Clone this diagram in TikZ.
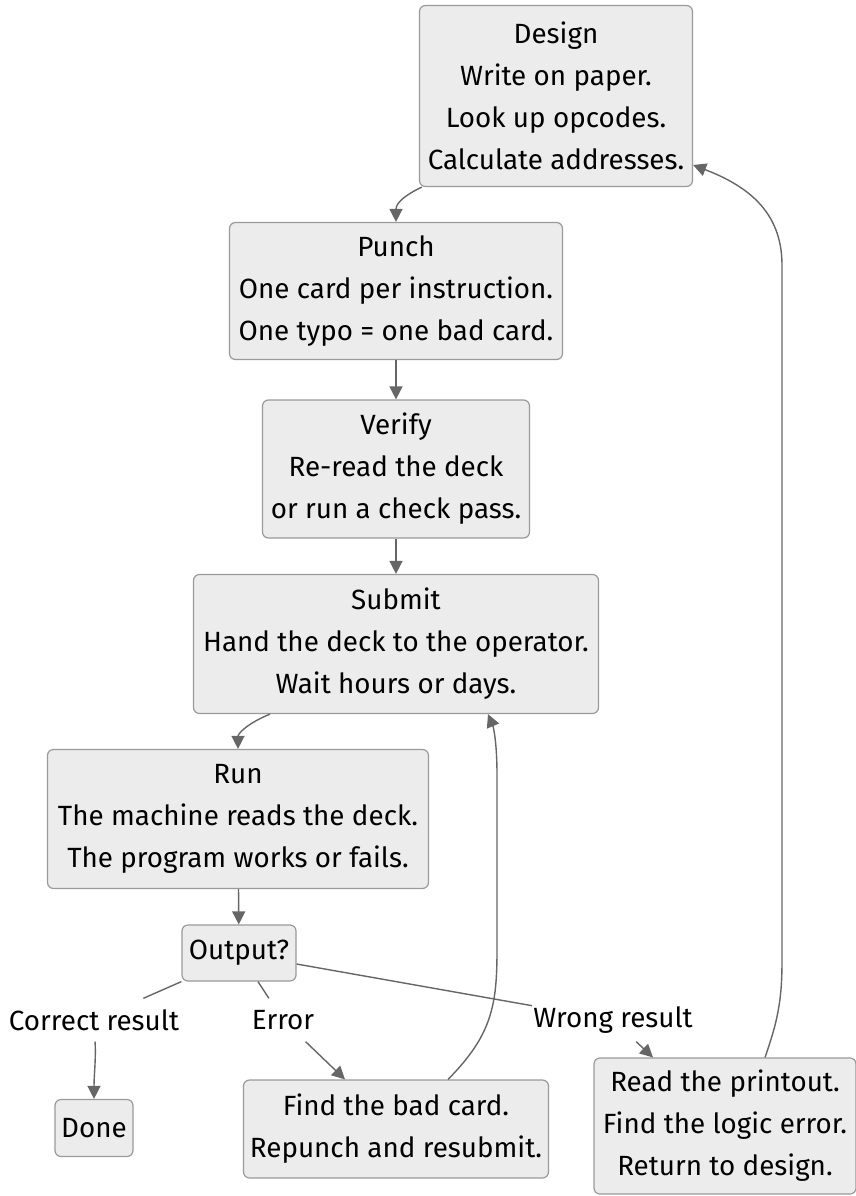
\documentclass[tikz,border=0pt]{standalone}
\usepackage{fontspec}
\setmainfont{Fira Sans}
\usetikzlibrary{arrows.meta}
\definecolor{boxfill}{HTML}{ECECEC}
\definecolor{boxline}{HTML}{9A9A9A}
\definecolor{edgeline}{HTML}{666666}

\begin{document}
\begin{tikzpicture}[x=1pt,y=-1pt,
    card/.style={draw=boxline,fill=boxfill,rounded corners=6pt,align=center,
      inner sep=0pt,line width=1.2pt,font=\fontsize{27.8}{42}\selectfont},
    lbl/.style={fill=white,inner xsep=1pt,inner ysep=0pt,minimum height=43pt,
      font=\fontsize{27.8}{42}\selectfont},
    wire/.style={draw=edgeline,line width=1.4pt},
    edge/.style={wire,-{Triangle[length=13pt,width=13pt]}}]
    \useasboundingbox (0,0) rectangle (856,1196);
    % main chain
    \node[card,minimum width=273pt,minimum height=181pt] (design) at (556,96)
      {Design\\Write on paper.\\Look up opcodes.\\Calculate addresses.};
    \node[card,minimum width=333pt,minimum height=137pt] (punch) at (396,291)
      {Punch\\One card per instruction.\\One typo = one bad card.};
    \node[card,minimum width=267pt,minimum height=138pt] (verify) at (396,469)
      {Verify\\Re-read the deck\\or run a check pass.};
    \node[card,minimum width=405pt,minimum height=139pt] (submit) at (396,644)
      {Submit\\Hand the deck to the operator.\\Wait hours or days.};
    \node[card,minimum width=381pt,minimum height=139pt] (run) at (238,819)
      {Run\\The machine reads the deck.\\The program works or fails.};
    \node[card,minimum width=114pt,minimum height=56pt] (output) at (239,953) {Output?};
    % outcomes
    \node[card,minimum width=78pt,minimum height=57pt] (done) at (94,1128) {Done};
    \node[card,minimum width=305pt,minimum height=98pt] (find) at (396,1129)
      {Find the bad card.\\Repunch and resubmit.};
    \node[card,minimum width=262pt,minimum height=136pt] (read) at (725,1126)
      {Read the printout.\\Find the logic error.\\Return to design.};
    % edge labels
    \node[lbl] (lcorrect) at (94,1020) {Correct result};
    \node[lbl] (lerror) at (283,1020) {Error};
    \node[lbl] (lwrong) at (613,1020) {Wrong result};

    \draw[edge] ([xshift=3pt]design.south west) .. controls (405,195) and (396,203) .. (punch.north);
    \draw[edge] (punch) -- (verify);
    \draw[edge] (verify) -- (submit);
    \draw[edge] ([xshift=-126pt]submit.south) .. controls (246,724) and (238,734) .. (run.north);
    \draw[edge] (run) -- (output);
    % branches
    \draw[wire] (output.south west) -- (lcorrect);
    \draw[edge] (lcorrect) .. controls (96,1060) and (94,1075) .. (done.north);
    \draw[wire] ([xshift=19pt]output.south) -- (lerror);
    \draw[edge] (lerror) -- ([xshift=-51pt]find.north);
    \draw[wire] ([yshift=-11pt]output.east) -- (lwrong);
    \draw[edge] (lwrong) -- ([xshift=-72pt]read.north);
    % loops back
    \draw[edge] ([xshift=52pt]find.north) .. controls (492,1035) and (497,1005) .. (497,950)
      -- (497,775) .. controls (497,740) and (493,726) .. ([xshift=92pt]submit.south);
    \draw[edge] ([xshift=40pt]read.north) .. controls (778,1020) and (782,1000) .. (782,960)
      -- (782,265) .. controls (782,210) and (745,185) .. ([yshift=-69pt]design.east);
\end{tikzpicture}
\end{document}
